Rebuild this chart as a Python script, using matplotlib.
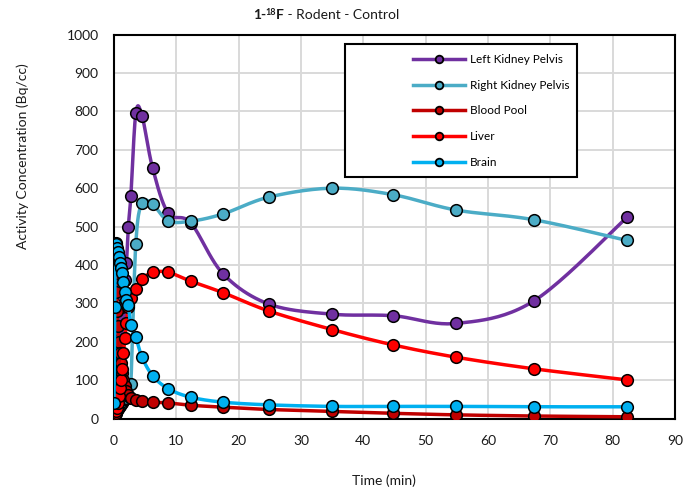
import numpy as np
import matplotlib
matplotlib.use("Agg")
import matplotlib.pyplot as plt
from matplotlib.lines import Line2D
from matplotlib.patches import Rectangle

plt.rcParams['font.family'] = ['Lato', 'DejaVu Sans']

# frame mid-times (min)
time = [0.0, 0.1, 0.2, 0.3, 0.4, 0.5, 0.6, 0.75, 0.9, 1.05, 1.25, 1.5, 1.75, 2.0,
        2.3, 2.7, 3.5, 4.5, 6.2, 8.7, 12.3, 17.5, 24.9, 35.0, 44.8, 54.9, 67.3, 82.3]

# activity concentration (Bq/cc)
left_kidney = [0, 100, 130, 150, 170, 190, 210, 230, 250, 270, 290, 320, 360, 405,
               500, 579, 795, 788, 652, 535, 510, 377, 298, 272, 268, 248, 306, 524]
right_kidney = [2, 6, 10, 14, 18, 22, 26, 30, 34, 38, 42, 46, 50, 55,
                60, 90, 456, 561, 558, 515, 514, 533, 577, 600, 583, 543, 518, 464]
blood_pool = [10, 370, 400, 380, 330, 280, 240, 200, 170, 145, 120, 100, 85, 72,
              62, 55, 48, 45, 43, 41, 35, 30, 24, 19, 14, 10, 7, 5]
liver = [3, 6, 10, 15, 20, 28, 40, 60, 80, 100, 130, 170, 210, 250,
         290, 315, 337, 363, 381, 381, 358, 328, 280, 232, 192, 160, 130, 101]
brain = [42, 290, 440, 458, 455, 445, 434, 420, 405, 392, 378, 356, 330, 310,
         296, 244, 212, 160, 112, 78, 56, 43, 36, 32, 32, 32, 31, 31]

series = [
    ("Left Kidney Pelvis", left_kidney, "#7030a0"),
    ("Right Kidney Pelvis", right_kidney, "#4bacc6"),
    ("Blood Pool", blood_pool, "#c00000"),
    ("Liver", liver, "#ff0000"),
    ("Brain", brain, "#00b0f0"),
]

X_SPAN, Y_SPAN = 90.0, 1000.0
X_PX, Y_PX = 561.0, 384.0


def smooth(xs, ys, n=24):
    # Bezier smoothing through the points, done in screen-like units
    pts = np.column_stack([np.asarray(xs, float) / X_SPAN * X_PX,
                           np.asarray(ys, float) / Y_SPAN * Y_PX])
    P = np.vstack([pts[0], pts, pts[-1]])
    s = np.linspace(0, 1, n)[:, None]
    out = []
    for i in range(1, len(P) - 2):
        p0, p1, p2, p3 = P[i - 1], P[i], P[i + 1], P[i + 2]
        c1 = p1 + (p2 - p0) / 6.0
        c2 = p2 - (p3 - p1) / 6.0
        seg = (1 - s) ** 3 * p1 + 3 * (1 - s) ** 2 * s * c1 + 3 * (1 - s) * s ** 2 * c2 + s ** 3 * p2
        out.append(seg)
    out = np.vstack(out)
    return out[:, 0] / X_PX * X_SPAN, out[:, 1] / Y_PX * Y_SPAN


fig = plt.figure(figsize=(7, 4.92), dpi=100)
ax = fig.add_axes([114 / 700, 1 - 418.7 / 492, 561 / 700, 384.2 / 492])

z = 3
for name, vals, col in series:
    sx, sy = smooth(time, vals)
    ax.plot(sx, sy, color=col, lw=2.5, zorder=z, solid_capstyle='round')
    ax.plot(time, vals, ls='none', marker='o', ms=8.4, mfc=col, mec='black',
            mew=1.1, zorder=z + 0.5)
    z += 1

ax.set_xlim(0, 90)
ax.set_ylim(0, 1000)
ax.set_xticks(np.arange(0, 91, 10))
ax.set_yticks(np.arange(0, 1001, 100))
ax.grid(True, color='#d9d9d9', lw=1.4)
ax.set_axisbelow(True)
ax.tick_params(length=0, labelsize=10, colors='#1a1a1a')
ax.tick_params(axis='y', pad=11)
ax.tick_params(axis='x', pad=12)
for sp in ax.spines.values():
    sp.set_color('black')
    sp.set_linewidth(1.5)

fig.text(23 / 700, 1 - 156 / 492, "Activity Concentration (Bq/cc)", rotation=90,
         ha='center', va='center', fontsize=10, color='#1a1a1a')
fig.text(384 / 700, 1 - 481 / 492, "Time (min)", ha='center', va='center',
         fontsize=10, color='#1a1a1a')

# title: bold "1-18F" with superscript mass number, then plain text
renderer = fig.canvas.get_renderer()
pieces = [("1-", 10, 'bold', 0), ("18", 6.5, 'bold', 4), ("F", 10, 'bold', 0),
          (" - Rodent - Control", 10, 'normal', 0)]
texts = []
for s_, fs, fw, dy in pieces:
    t = fig.text(0, 0, s_, fontsize=fs, fontweight=fw, color='#1a1a1a',
                 ha='left', va='baseline')
    texts.append((t, dy))
widths = [t.get_window_extent(renderer).width for t, _ in texts]
x = 326 - sum(widths) / 2
base = 492 - 19
for (t, dy), w in zip(texts, widths):
    t.set_position((x / 700, (base + dy) / 492))
    x += w

# legend box with white fill over the grid
fig.patches.append(Rectangle((345 / 700, 1 - 177 / 492), 232 / 700, 133 / 492,
                             transform=fig.transFigure, facecolor='white',
                             edgecolor='black', lw=1.5, zorder=10))
handles = [Line2D([], [], color=col, lw=2.5, marker='o', ms=5.5, mfc=col,
                  mec='black', mew=1.3) for _, _, col in series]
fig.legend(handles, [n for n, _, _ in series], loc='upper left',
           bbox_to_anchor=(407 / 700, 1 - 48 / 492), bbox_transform=fig.transFigure,
           frameon=False, borderpad=0, handlelength=4.4, handletextpad=0.45,
           labelspacing=1.25, fontsize=8.5).set_zorder(11)

fig.savefig("out.png", dpi=100)
